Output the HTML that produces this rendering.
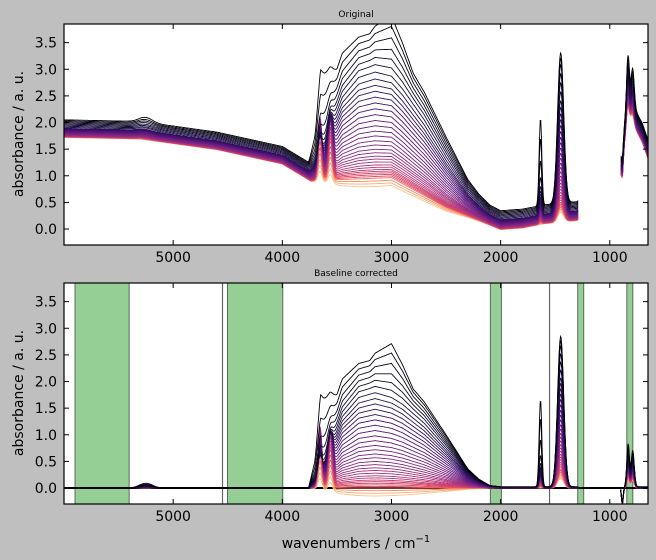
<!DOCTYPE html>
<html><head><meta charset="utf-8"><style>
html,body{margin:0;padding:0;background:#bfbfbf;}
svg{display:block;font-family:"DejaVu Sans","Liberation Sans",sans-serif;}
</style></head><body>
<svg id="fig" width="656" height="560" viewBox="0 0 656 560" xmlns="http://www.w3.org/2000/svg">
<rect width="656" height="560" fill="#bfbfbf"/>
<defs>
<clipPath id="c1"><rect x="64" y="24" width="584" height="221"/></clipPath>
<clipPath id="c2"><rect x="64" y="283" width="584" height="221"/></clipPath>
</defs>
</svg>
<script>
// ---- data ----
const xTicks = [5000, 4000, 3000, 2000, 1000];
const yTicks = [0.0, 0.5, 1.0, 1.5, 2.0, 2.5, 3.0, 3.5];
// baseline shape knots (wavenumber, relative absorbance)
const baseWn  = [6000, 5300, 4600, 4000, 3740, 3500, 3000, 2500, 2200, 2000, 1800, 1600, 1300, 900, 870, 840, 800, 700, 650];
const baseVal = [0, -0.03, -0.23, -0.5, -0.82, -0.8, -0.76, -1.32, -1.56, -1.73, -1.7, -1.62, -1.56, -0.65, -0.2, 0.4, 0.3, -0.1, -0.4];
// broad water band profile
const waterWn  = [3760, 3650, 3550, 3450, 3300, 3150, 3000, 2900, 2700, 2500, 2300, 2200, 2100, 2000];
const waterVal = [0, 0.15, 0.45, 0.75, 0.95, 1.0, 0.95, 0.88, 0.68, 0.42, 0.15, 0.07, 0.02, 0.01];
// sharp edge feature of the first spectra
const edgeWn  = [3760, 3700, 3650, 3500, 3300, 3000];
const edgeVal = [0, 0.25, 1.0, 0.25, 0.06, 0];
// 3000 cm-1 maximum of the first spectra
const topWn  = [3200, 3000, 2800];
const topVal = [0, 1, 0];
// per-spectrum values (index 0 = black)
const offsets = [2.05,2.03,2.01,1.99,1.97,1.95,1.93,1.91,1.89,1.88,1.87,1.86,1.85,1.84,1.83,1.82,1.81,1.80,1.79,1.78,1.77,1.765,1.76,1.755,1.75,1.745,1.74,1.737,1.734,1.731,1.73,1.728,1.726,1.724,1.722,1.72];
const waterAmp = [2.38,2.3,2.2,2.1,2.0,1.9,1.79,1.68,1.58,1.48,1.38,1.28,1.18,1.08,0.98,0.89,0.8,0.72,0.64,0.57,0.5,0.44,0.38,0.33,0.28,0.23,0.19,0.15,0.12,0.09,0.06,0.03,0.0,-0.05,-0.1,-0.15];
const edgeAmp = [1.3,0.85,0.5,0.28,0.12,0.04,0,0,0,0,0,0,0,0,0,0,0,0,0,0,0,0,0,0,0,0,0,0,0,0,0,0,0,0,0,0];
const topAmp = [0.45,0.35,0.25,0.15,0.08,0.03,0,0,0,0,0,0,0,0,0,0,0,0,0,0,0,0,0,0,0,0,0,0,0,0,0,0,0,0,0,0];
const peak3650 = [0.1,0.12,0.15,0.2,0.25,0.3,0.35,0.4,0.45,0.5,0.55,0.6,0.65,0.7,0.75,0.8,0.85,0.9,0.95,1.0,1.05,1.05,1.1,1.05,1.0,1.0,0.95,0.9,0.85,0.8,0.7,0.6,0.5,0.4,0.3,0.2];
const peak1630 = [1.65,1.3,0.9,0.6,0.45,0.38,0.34,0.31,0.29,0.27,0.25,0.24,0.23,0.22,0.21,0.2,0.19,0.18,0.17,0.16,0.15,0.14,0.13,0.12,0.11,0.1,0.09,0.08,0.07,0.06,0.05,0.04,0.03,0.02,0.01,0];
const peak1450 = [2.83,2.75,2.65,2.5,2.35,2.2,2.05,1.95,1.85,1.75,1.65,1.55,1.45,1.36,1.27,1.18,1.1,1.02,0.95,0.88,0.81,0.75,0.69,0.63,0.58,0.53,0.48,0.44,0.4,0.36,0.33,0.3,0.27,0.24,0.21,0.18];
const peak830 = [0.8,0.75,0.7,0.66,0.62,0.58,0.55,0.52,0.5,0.48,0.46,0.44,0.42,0.4,0.38,0.37,0.36,0.35,0.34,0.33,0.32,0.31,0.3,0.29,0.28,0.27,0.26,0.25,0.24,0.23,0.22,0.21,0.2,0.19,0.18,0.17];
const bump5250 = [0.09,0.07,0.06,0.05,0.04,0.035,0.03,0.03,0.025,0.02,0.02,0.02,0.02,0.015,0.015,0.015,0.01,0.01,0.01,0.01,0.01,0.01,0.01,0.01,0.01,0.01,0.01,0.01,0.01,0.01,0.01,0.01,0.0,0.0,0.0,0.0];
const bands = [[5899,5403],[4502,3996],[2094,1993],[1294,1239],[844,789]];
const bandLines = [4548, 1552];

// ---- helpers ----
const NS="http://www.w3.org/2000/svg";
const svg=document.getElementById('fig');
const X0=64,X1=648, WMAX=6000, WMIN=650;
const sx=w=>X0+(WMAX-w)/(WMAX-WMIN)*(X1-X0);
const YMIN=-0.3,YMAX=3.85;
function syF(top){return v=>top+221-(v-YMIN)/(YMAX-YMIN)*221;}
function mk(tag,attrs,parent){const e=document.createElementNS(NS,tag);for(const k in attrs)e.setAttribute(k,attrs[k]);(parent||svg).appendChild(e);return e;}
function interp(xs,ys,x){ // xs descending
  if(x>=xs[0])return ys[0]; if(x<=xs[xs.length-1])return ys[ys.length-1];
  for(let i=0;i<xs.length-1;i++){if(x<=xs[i]&&x>=xs[i+1]){const t=(xs[i]-x)/(xs[i]-xs[i+1]);return ys[i]+t*(ys[i+1]-ys[i]);}}
  return 0;}
const g=(x,c,s)=>Math.exp(-0.5*((x-c)/s)**2);
const magma=[[0,0,4],[28,16,68],[79,18,123],[129,37,129],[181,54,122],[229,80,100],[251,135,97],[254,194,135],[252,253,191]];
function cmap(t){const p=t*(magma.length-1),i=Math.min(Math.floor(p),magma.length-2),f=p-i;const a=magma[i],b=magma[i+1];return `rgb(${a.map((v,k)=>Math.round(v+f*(b[k]-v))).join(',')})`;}
function colorT(i,n){const m=n-4;return i<m? i/(m-1)*0.62 : 0.7+(i-m)*0.06;}

const grid1=[],grid2=[];
for(let w=6000;w>=1290;w-=6)grid1.push(w);
for(let w=900;w>=650;w-=4)grid2.push(w);
function corrected(i,w){
  let v=waterAmp[i]*interp(waterWn,waterVal,w)+edgeAmp[i]*interp(edgeWn,edgeVal,w)+topAmp[i]*interp(topWn,topVal,w);
  v+=peak3650[i]*(g(w,3655,18)+0.85*g(w,3560,20));
  v+=peak1630[i]*g(w,1635,12)+peak1450[i]*g(w,1450,28);
  v+=bump5250[i]*g(w,5250,60);
  v+=peak830[i]*g(w,832,12)+0.85*peak830[i]*g(w,790,14)-0.3*g(w,885,8);
  return v;}
function original(i,w){return offsets[i]+interp(baseWn,baseVal,w)+corrected(i,w);}

function axes(top,clip,title,name,fn,extra){
  const ax=mk('g',{});
  mk('rect',{x:X0,y:top,width:X1-X0,height:221,fill:'#fff',},ax);
  const sy=syF(top);
  if(extra)extra(ax,sy);
  const lines=mk('g',{'clip-path':`url(#${clip})`,},ax);
  const n=offsets.length;
  for(let i=n-1;i>=0;i--){
    for(const grid of [grid1,grid2]){
      const pts=grid.map(w=>sx(w).toFixed(1)+','+sy(fn(i,w)).toFixed(1)).join(' ');
      const pl=mk('polyline',{points:pts,fill:'none',stroke:cmap(colorT(i,n)),'stroke-width':0.9},lines);
      
      
    }}
  xTicks.forEach(t=>{const x=sx(t);
    mk('line',{x1:x,x2:x,y1:top+221,y2:top+216,stroke:'#000'},ax);
    mk('line',{x1:x,x2:x,y1:top,y2:top+5,stroke:'#000'},ax);
    const tx=mk('text',{x:x,y:top+238,'font-size':14,'text-anchor':'middle'},ax);tx.textContent=t;
    });
  yTicks.forEach(t=>{const y=sy(t);
    mk('line',{x1:X0,x2:X0+5,y1:y,y2:y,stroke:'#000'},ax);
    mk('line',{x1:X1,x2:X1-5,y1:y,y2:y,stroke:'#000'},ax);
    const tx=mk('text',{x:57,y:y+5,'font-size':14,'text-anchor':'end'},ax);tx.textContent=t.toFixed(1);
    });
  mk('rect',{x:X0,y:top,width:X1-X0,height:221,fill:'none',stroke:'#000','stroke-width':1.2,},ax);
  const tt=mk('text',{x:356,y:top-7,'font-size':9,'text-anchor':'middle',},ax);tt.textContent=title;
  const yl=mk('text',{x:0,y:0,'font-size':14,'text-anchor':'middle',transform:`translate(23,${top+110}) rotate(-90)`,},ax);yl.textContent='absorbance / a. u.';
}
axes(24,'c1','Original','original-axes',original,null);
axes(283,'c2','Baseline corrected','corrected-axes',corrected,(ax,sy)=>{
  bands.forEach(b=>{const r=mk('rect',{x:sx(b[0]),y:283,width:sx(b[1])-sx(b[0]),height:221,fill:'#96cf96',stroke:'#5a6a5a','stroke-width':1},ax);
    });
  bandLines.forEach(w=>{const l=mk('line',{x1:sx(w),x2:sx(w),y1:283,y2:504,stroke:'#666','stroke-width':1.2},ax);
    });
  const z=mk('line',{x1:X0,x2:X1,y1:sy(0),y2:sy(0),stroke:'#000','stroke-width':2},ax);
  
});
const xl=mk('text',{x:356,y:548,'font-size':14,'text-anchor':'middle',});
xl.innerHTML='wavenumbers / cm<tspan dy="-6" font-size="10">−1</tspan>';
</script>
</body></html>
